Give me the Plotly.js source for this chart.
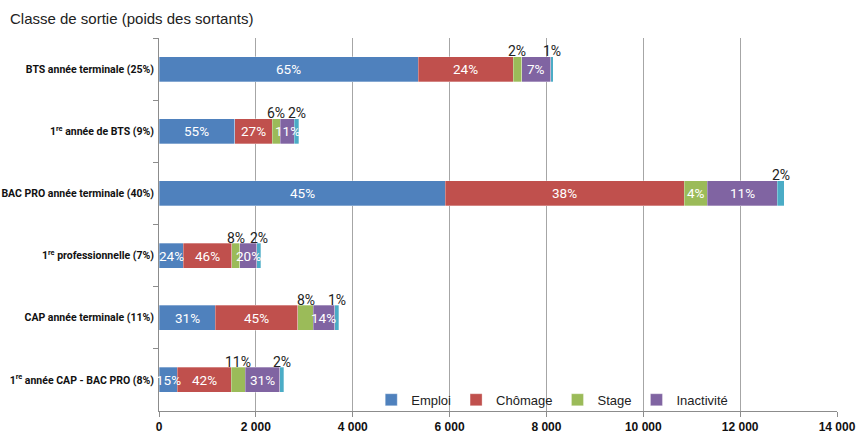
<!DOCTYPE html>
<html>
<head>
<meta charset="utf-8">
<script src="https://cdn.plot.ly/plotly-3.0.1.min.js"></script>
<style>
html,body{margin:0;padding:0;background:#fff;}
#chart{width:857px;height:434px;}
</style>
</head>
<body>
<div id="chart"></div>
<script>
const categories = [
  "BTS année terminale (25%)",
  "1<sup>re</sup> année de BTS (9%)",
  "BAC PRO année terminale (40%)",
  "1<sup>re</sup> professionnelle (7%)",
  "CAP année terminale (11%)",
  "1<sup>re</sup> année CAP - BAC PRO (8%)"
];
const emploi     = [5350, 1560, 5910, 500, 1165, 380];
const chomage    = [1965, 780, 4940, 1000, 1705, 1110];
const stage      = [175, 165, 475, 170, 310, 290];
const inactivite = [595, 290, 1440, 345, 445, 710];
const autre      = [55, 90, 145, 90, 90, 90];

const pctEmploi  = ["65%", "55%", "45%", "24%", "31%", "15%"];
const pctChomage = ["24%", "27%", "38%", "46%", "45%", "42%"];
const pctStage   = ["2%", "6%", "4%", "8%", "8%", "11%"];
const pctInact   = ["7%", "11%", "11%", "20%", "14%", "31%"];
const pctAutre   = ["1%", "2%", "2%", "2%", "1%", "2%"];

const seriesNames = ["Emploi", "Chômage", "Stage", "Inactivité", "Autre"];
const seriesVals = [emploi, chomage, stage, inactivite, autre];
const seriesPct = [pctEmploi, pctChomage, pctStage, pctInact, pctAutre];
const colors = ["#4f81bd", "#c0504d", "#9bbb59", "#8064a2", "#4bacc6"];

const labelFont = "Roboto, sans-serif";

function isInside(si, i) {
  if (si === 4) return false;
  if (si === 2) return seriesVals[si][i] >= 400;
  return true;
}

const traces = seriesVals.map((vals, si) => ({
  type: "bar",
  orientation: "h",
  name: seriesNames[si],
  y: categories,
  x: vals,
  marker: {color: colors[si], line: {color: "rgba(255,255,255,0.6)", width: 0.5}},
  showlegend: si < 4,
  hoverinfo: "x+name"
}));

const annotations = [];
categories.forEach((cat, i) => {
  let cum = 0;
  seriesVals.forEach((vals, si) => {
    const start = cum;
    cum += vals[i];
    const inside = isInside(si, i);
    annotations.push({
      x: start + vals[i] / 2, y: cat, xref: "x", yref: "y",
      text: seriesPct[si][i], showarrow: false,
      yshift: inside ? 0 : 18,
      font: inside ? {size: 13.5, color: "#ffffff", family: labelFont}
                   : {size: 14, color: "#222", family: labelFont}
    });
  });
});

const layout = {
  width: 857, height: 434,
  margin: {l: 159, r: 20, t: 38, b: 23},
  paper_bgcolor: "#fff", plot_bgcolor: "#fff",
  barmode: "stack",
  bargap: 0.6,
  separators: ", ",
  title: {
    text: "Classe de sortie (poids des sortants)",
    x: 10 / 857, xanchor: "left", xref: "container",
    y: 1 - 19 / 434, yanchor: "middle", yref: "container",
    font: {size: 15, color: "#222", family: "'Liberation Sans', sans-serif"}
  },
  xaxis: {
    range: [0, 14000], dtick: 2000, tick0: 0,
    tickformat: ",d",
    showgrid: true, gridcolor: "#a6a6a6", gridwidth: 1,
    zeroline: false,
    showline: true, linecolor: "#8c8c8c", linewidth: 1,
    ticks: "outside", ticklen: 5, tickcolor: "#8c8c8c",
    tickfont: {size: 12, color: "#111", family: "'Liberation Sans', sans-serif", weight: "bold"},
    fixedrange: true
  },
  yaxis: {
    type: "category",
    autorange: "reversed",
    showline: true, linecolor: "#8c8c8c", linewidth: 1,
    ticks: "outside", ticklen: 5, tickcolor: "#8c8c8c",
    tickson: "boundaries",
    showgrid: false,
    tickfont: {size: 10.5, color: "#111", family: labelFont, weight: "bold"},
    ticklabelstandoff: 2,
    fixedrange: true
  },
  legend: {
    orientation: "h",
    x: 0.58, xanchor: "center",
    y: 0.03, yanchor: "middle",
    bgcolor: "rgba(0,0,0,0)",
    font: {size: 13, color: "#222", family: "'Liberation Sans', sans-serif"},
    traceorder: "normal",
    itemwidth: 30
  },
  annotations: annotations
};

Plotly.newPlot("chart", traces, layout, {displayModeBar: false, staticPlot: true});
</script>
</body>
</html>
